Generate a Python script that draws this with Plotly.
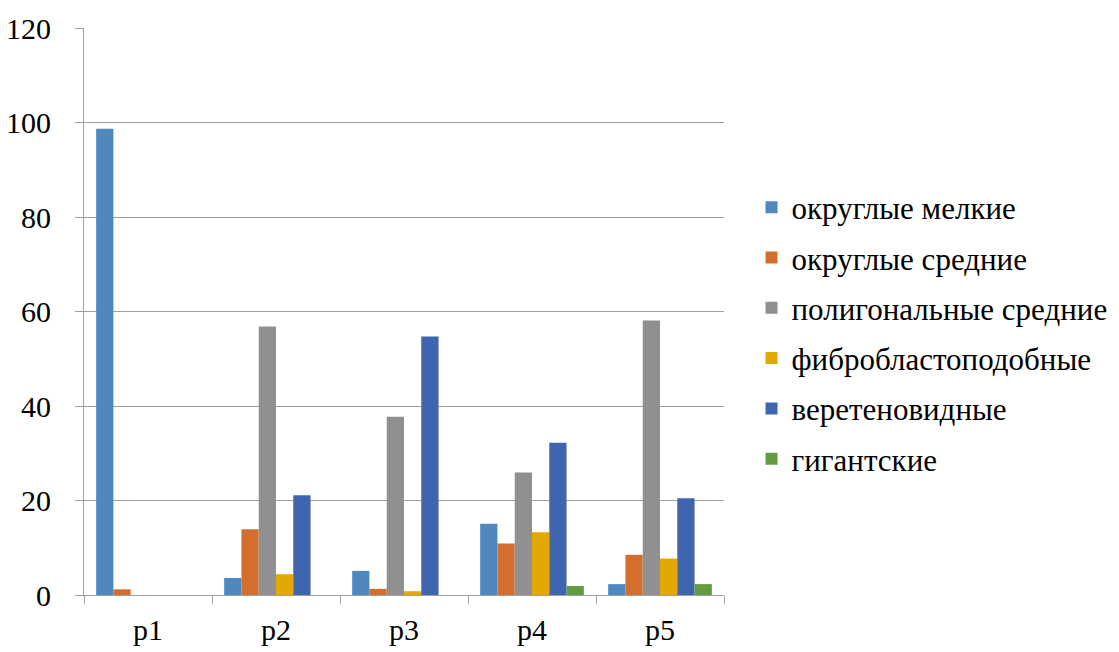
import plotly.graph_objects as go

categories = ["p1", "p2", "p3", "p4", "p5"]
series_names = ["округлые мелкие", "округлые средние", "полигональные средние",
                "фибробластоподобные", "веретеновидные", "гигантские"]
okruglye_melkie = [98.7, 3.6, 5.1, 15.1, 2.3]
okruglye_srednie = [1.2, 13.9, 1.3, 10.9, 8.5]
poligonalnye_srednie = [0, 56.8, 37.7, 25.9, 58.1]
fibroblastopodobnye = [0, 4.4, 0.8, 13.3, 7.7]
veretenovidnye = [0, 21.1, 54.7, 32.2, 20.5]
gigantskie = [0, 0, 0, 1.9, 2.3]
series_values = [okruglye_melkie, okruglye_srednie, poligonalnye_srednie,
                 fibroblastopodobnye, veretenovidnye, gigantskie]
colors = ["#4F88BE", "#D46E2C", "#909090", "#E2A800", "#3E65AE", "#629B40"]
y_ticks = [0, 20, 40, 60, 80, 100, 120]

fig = go.Figure()
for i, (name, vals) in enumerate(zip(series_names, series_values)):
    fig.add_trace(go.Bar(
        x=categories, y=vals, name=name, legendgroup=f"g{i}",
        marker=dict(color=colors[i], line=dict(width=0)),
    ))

font_family = "Liberation Serif, Times New Roman, serif"
fig.update_layout(
    width=1119, height=652,
    margin=dict(l=84, r=395, t=28, b=57, autoexpand=False),
    paper_bgcolor="white", plot_bgcolor="white",
    barmode="group", bargap=0.19, bargroupgap=0,
    font=dict(family=font_family, size=30, color="black"),
    showlegend=True,
    legend=dict(
        x=1.043, xanchor="left", y=0.462, yanchor="middle",
        font=dict(family=font_family, size=31, color="black"),
        tracegroupgap=7, itemwidth=30,
        bgcolor="rgba(0,0,0,0)",
    ),
    xaxis=dict(
        showline=True, linecolor="#A0A0A0", linewidth=1,
        ticks="outside", tickson="boundaries", ticklen=8, tickcolor="#A0A0A0",
        showgrid=False, ticklabelstandoff=8, automargin=False,
        tickfont=dict(family=font_family, size=30),
    ),
    yaxis=dict(
        range=[0, 120], tickvals=y_ticks, ticktext=[str(v) for v in y_ticks],
        showline=True, linecolor="#A0A0A0", linewidth=1,
        ticks="outside", ticklen=8, tickcolor="#A0A0A0",
        showgrid=True, gridcolor="#A0A0A0", gridwidth=1,
        zeroline=False, ticklabelstandoff=18, automargin=False,
        tickfont=dict(family=font_family, size=30),
    ),
)
fig.write_html("out.html", config={"displayModeBar": False},
               post_script="document.body.style.margin='0';document.body.style.padding='0';")
